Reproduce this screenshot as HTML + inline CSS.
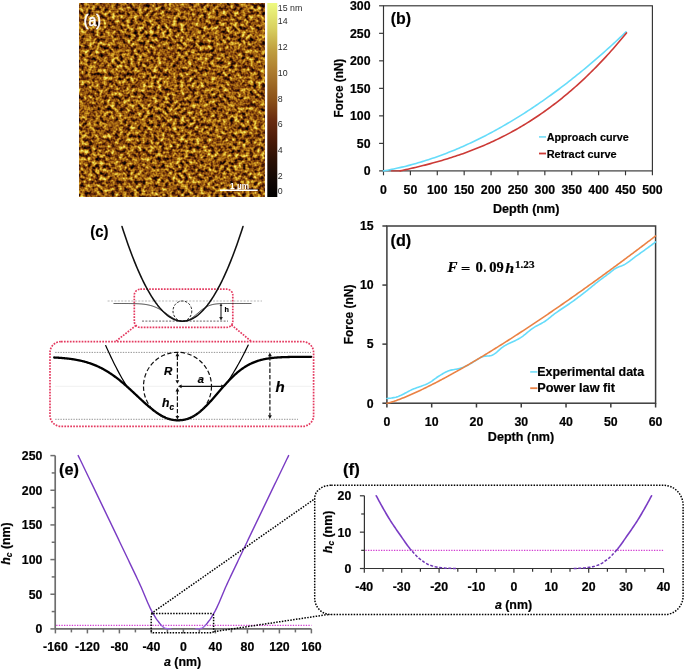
<!DOCTYPE html>
<html><head><meta charset="utf-8"><style>
html,body{margin:0;padding:0;background:#fff;}
svg{display:block;will-change:transform;} text[fill="#000"]{stroke:#000;stroke-width:0.2px;}
</style></head><body>
<svg width="685" height="670" viewBox="0 0 685 670">
<rect width="685" height="670" fill="#fff"/>
<defs>
<filter id="afm" x="0" y="0" width="100%" height="100%" color-interpolation-filters="sRGB">
 <feTurbulence type="fractalNoise" baseFrequency="0.26" numOctaves="2" seed="7" result="n"/>
 <feColorMatrix in="n" type="matrix" values="1 0 0 0 0  1 0 0 0 0  1 0 0 0 0  0 0 0 0 1" result="g0"/>
 <feGaussianBlur in="g0" stdDeviation="0.6" result="g"/>
 <feComponentTransfer in="g" result="s">
  <feFuncR type="linear" slope="1.6" intercept="-0.255"/>
  <feFuncG type="linear" slope="1.6" intercept="-0.255"/>
  <feFuncB type="linear" slope="1.6" intercept="-0.255"/>
 </feComponentTransfer>
 <feComponentTransfer in="s">
  <feFuncR type="table" tableValues="0.000 0.039 0.078 0.125 0.176 0.239 0.302 0.365 0.424 0.486 0.549 0.596 0.647 0.698 0.745 0.792 0.835 0.878 0.906 0.922 0.941"/>
  <feFuncG type="table" tableValues="0.000 0.016 0.035 0.051 0.067 0.090 0.118 0.153 0.188 0.247 0.306 0.357 0.404 0.455 0.514 0.576 0.647 0.718 0.780 0.843 0.902"/>
  <feFuncB type="table" tableValues="0.000 0.012 0.020 0.020 0.020 0.024 0.024 0.031 0.039 0.047 0.055 0.063 0.075 0.086 0.102 0.122 0.161 0.204 0.259 0.325 0.392"/>
  <feFuncA type="linear" slope="0" intercept="1"/>
 </feComponentTransfer>
</filter>
<linearGradient id="cbar" x1="0" y1="1" x2="0" y2="0">

<stop offset="0.000" stop-color="rgb(0, 0, 0)"/>
<stop offset="0.090" stop-color="rgb(18, 8, 5)"/>
<stop offset="0.190" stop-color="rgb(42, 16, 5)"/>
<stop offset="0.290" stop-color="rgb(74, 26, 8)"/>
<stop offset="0.400" stop-color="rgb(106, 44, 16)"/>
<stop offset="0.500" stop-color="rgb(138, 80, 24)"/>
<stop offset="0.660" stop-color="rgb(176, 128, 48)"/>
<stop offset="0.760" stop-color="rgb(192, 160, 64)"/>
<stop offset="0.870" stop-color="rgb(216, 208, 96)"/>
<stop offset="1.000" stop-color="rgb(238, 250, 128)"/>
</linearGradient></defs>
<rect x="79" y="3" width="186" height="194" filter="url(#afm)"/>
<text x="83.80" y="25.50" font-size="16" text-anchor="start" font-weight="normal" font-style="normal" font-family='"Liberation Sans", sans-serif' fill="#fff" textLength="17.10" lengthAdjust="spacingAndGlyphs" stroke="#fff" stroke-width="0.6">(a)</text>
<rect x="220" y="189.5" width="37.7" height="1.5" fill="#fff"/>
<text x="230.00" y="188.60" font-size="9" text-anchor="start" font-weight="bold" font-style="normal" font-family='"Liberation Sans", sans-serif' fill="#fff" textLength="19.00" lengthAdjust="spacingAndGlyphs" >1 µm</text>
<rect x="267.3" y="3" width="10" height="194" fill="url(#cbar)"/>
<text x="277.80" y="11.15" font-size="8.8" text-anchor="start" font-weight="normal" font-style="normal" font-family='"Liberation Sans", sans-serif' fill="#2a2a2a" >15 nm</text>
<text x="277.80" y="24.05" font-size="8.8" text-anchor="start" font-weight="normal" font-style="normal" font-family='"Liberation Sans", sans-serif' fill="#2a2a2a" >14</text>
<text x="277.80" y="50.05" font-size="8.8" text-anchor="start" font-weight="normal" font-style="normal" font-family='"Liberation Sans", sans-serif' fill="#2a2a2a" >12</text>
<text x="277.80" y="75.65" font-size="8.8" text-anchor="start" font-weight="normal" font-style="normal" font-family='"Liberation Sans", sans-serif' fill="#2a2a2a" >10</text>
<text x="277.80" y="101.65" font-size="8.8" text-anchor="start" font-weight="normal" font-style="normal" font-family='"Liberation Sans", sans-serif' fill="#2a2a2a" >8</text>
<text x="277.80" y="127.35" font-size="8.8" text-anchor="start" font-weight="normal" font-style="normal" font-family='"Liberation Sans", sans-serif' fill="#2a2a2a" >6</text>
<text x="277.80" y="153.05" font-size="8.8" text-anchor="start" font-weight="normal" font-style="normal" font-family='"Liberation Sans", sans-serif' fill="#2a2a2a" >4</text>
<text x="277.80" y="178.65" font-size="8.8" text-anchor="start" font-weight="normal" font-style="normal" font-family='"Liberation Sans", sans-serif' fill="#2a2a2a" >2</text>
<text x="277.80" y="194.15" font-size="8.8" text-anchor="start" font-weight="normal" font-style="normal" font-family='"Liberation Sans", sans-serif' fill="#2a2a2a" >0</text>
<rect x="383.5" y="5.8" width="268.9" height="165.1" fill="none" stroke="#333" stroke-width="1.15"/>
<line x1="383.50" y1="170.90" x2="383.50" y2="175.30" stroke="#333" stroke-width="1.15" />
<text x="383.50" y="193.60" font-size="12.3" text-anchor="middle" font-weight="bold" font-style="normal" font-family='"Liberation Sans", sans-serif' fill="#000" textLength="6.85" lengthAdjust="spacingAndGlyphs" >0</text>
<line x1="410.39" y1="170.90" x2="410.39" y2="175.30" stroke="#333" stroke-width="1.15" />
<text x="410.39" y="193.60" font-size="12.3" text-anchor="middle" font-weight="bold" font-style="normal" font-family='"Liberation Sans", sans-serif' fill="#000" textLength="13.70" lengthAdjust="spacingAndGlyphs" >50</text>
<line x1="437.28" y1="170.90" x2="437.28" y2="175.30" stroke="#333" stroke-width="1.15" />
<text x="437.28" y="193.60" font-size="12.3" text-anchor="middle" font-weight="bold" font-style="normal" font-family='"Liberation Sans", sans-serif' fill="#000" textLength="20.55" lengthAdjust="spacingAndGlyphs" >100</text>
<line x1="464.17" y1="170.90" x2="464.17" y2="175.30" stroke="#333" stroke-width="1.15" />
<text x="464.17" y="193.60" font-size="12.3" text-anchor="middle" font-weight="bold" font-style="normal" font-family='"Liberation Sans", sans-serif' fill="#000" textLength="20.55" lengthAdjust="spacingAndGlyphs" >150</text>
<line x1="491.06" y1="170.90" x2="491.06" y2="175.30" stroke="#333" stroke-width="1.15" />
<text x="491.06" y="193.60" font-size="12.3" text-anchor="middle" font-weight="bold" font-style="normal" font-family='"Liberation Sans", sans-serif' fill="#000" textLength="20.55" lengthAdjust="spacingAndGlyphs" >200</text>
<line x1="517.95" y1="170.90" x2="517.95" y2="175.30" stroke="#333" stroke-width="1.15" />
<text x="517.95" y="193.60" font-size="12.3" text-anchor="middle" font-weight="bold" font-style="normal" font-family='"Liberation Sans", sans-serif' fill="#000" textLength="20.55" lengthAdjust="spacingAndGlyphs" >250</text>
<line x1="544.84" y1="170.90" x2="544.84" y2="175.30" stroke="#333" stroke-width="1.15" />
<text x="544.84" y="193.60" font-size="12.3" text-anchor="middle" font-weight="bold" font-style="normal" font-family='"Liberation Sans", sans-serif' fill="#000" textLength="20.55" lengthAdjust="spacingAndGlyphs" >300</text>
<line x1="571.73" y1="170.90" x2="571.73" y2="175.30" stroke="#333" stroke-width="1.15" />
<text x="571.73" y="193.60" font-size="12.3" text-anchor="middle" font-weight="bold" font-style="normal" font-family='"Liberation Sans", sans-serif' fill="#000" textLength="20.55" lengthAdjust="spacingAndGlyphs" >350</text>
<line x1="598.62" y1="170.90" x2="598.62" y2="175.30" stroke="#333" stroke-width="1.15" />
<text x="598.62" y="193.60" font-size="12.3" text-anchor="middle" font-weight="bold" font-style="normal" font-family='"Liberation Sans", sans-serif' fill="#000" textLength="20.55" lengthAdjust="spacingAndGlyphs" >400</text>
<line x1="625.51" y1="170.90" x2="625.51" y2="175.30" stroke="#333" stroke-width="1.15" />
<text x="625.51" y="193.60" font-size="12.3" text-anchor="middle" font-weight="bold" font-style="normal" font-family='"Liberation Sans", sans-serif' fill="#000" textLength="20.55" lengthAdjust="spacingAndGlyphs" >450</text>
<line x1="652.40" y1="170.90" x2="652.40" y2="175.30" stroke="#333" stroke-width="1.15" />
<text x="652.40" y="193.60" font-size="12.3" text-anchor="middle" font-weight="bold" font-style="normal" font-family='"Liberation Sans", sans-serif' fill="#000" textLength="20.55" lengthAdjust="spacingAndGlyphs" >500</text>
<line x1="379.10" y1="170.90" x2="383.50" y2="170.90" stroke="#333" stroke-width="1.15" />
<text x="370.50" y="175.25" font-size="12.3" text-anchor="end" font-weight="bold" font-style="normal" font-family='"Liberation Sans", sans-serif' fill="#000" textLength="6.85" lengthAdjust="spacingAndGlyphs" >0</text>
<line x1="379.10" y1="143.38" x2="383.50" y2="143.38" stroke="#333" stroke-width="1.15" />
<text x="370.50" y="147.73" font-size="12.3" text-anchor="end" font-weight="bold" font-style="normal" font-family='"Liberation Sans", sans-serif' fill="#000" textLength="13.70" lengthAdjust="spacingAndGlyphs" >50</text>
<line x1="379.10" y1="115.87" x2="383.50" y2="115.87" stroke="#333" stroke-width="1.15" />
<text x="370.50" y="120.22" font-size="12.3" text-anchor="end" font-weight="bold" font-style="normal" font-family='"Liberation Sans", sans-serif' fill="#000" textLength="20.55" lengthAdjust="spacingAndGlyphs" >100</text>
<line x1="379.10" y1="88.35" x2="383.50" y2="88.35" stroke="#333" stroke-width="1.15" />
<text x="370.50" y="92.70" font-size="12.3" text-anchor="end" font-weight="bold" font-style="normal" font-family='"Liberation Sans", sans-serif' fill="#000" textLength="20.55" lengthAdjust="spacingAndGlyphs" >150</text>
<line x1="379.10" y1="60.83" x2="383.50" y2="60.83" stroke="#333" stroke-width="1.15" />
<text x="370.50" y="65.18" font-size="12.3" text-anchor="end" font-weight="bold" font-style="normal" font-family='"Liberation Sans", sans-serif' fill="#000" textLength="20.55" lengthAdjust="spacingAndGlyphs" >200</text>
<line x1="379.10" y1="33.32" x2="383.50" y2="33.32" stroke="#333" stroke-width="1.15" />
<text x="370.50" y="37.67" font-size="12.3" text-anchor="end" font-weight="bold" font-style="normal" font-family='"Liberation Sans", sans-serif' fill="#000" textLength="20.55" lengthAdjust="spacingAndGlyphs" >250</text>
<line x1="379.10" y1="5.80" x2="383.50" y2="5.80" stroke="#333" stroke-width="1.15" />
<text x="370.50" y="10.15" font-size="12.3" text-anchor="end" font-weight="bold" font-style="normal" font-family='"Liberation Sans", sans-serif' fill="#000" textLength="20.55" lengthAdjust="spacingAndGlyphs" >300</text>
<text x="493.00" y="212.60" font-size="12.4" text-anchor="start" font-weight="bold" font-style="normal" font-family='"Liberation Sans", sans-serif' fill="#000" textLength="66.40" lengthAdjust="spacingAndGlyphs" >Depth (nm)</text>
<text x="342.90" y="117.60" font-size="12.4" text-anchor="start" font-weight="bold" font-style="normal" font-family='"Liberation Sans", sans-serif' fill="#000" textLength="58.90" lengthAdjust="spacingAndGlyphs" transform="rotate(-90 342.90 117.60)" >Force (nN)</text>
<text x="390.80" y="23.60" font-size="16" text-anchor="start" font-weight="bold" font-style="normal" font-family='"Liberation Sans", sans-serif' fill="#000" textLength="20.30" lengthAdjust="spacingAndGlyphs" >(b)</text>
<polyline points="383.50,170.90 385.54,170.54 387.58,170.17 389.61,169.78 391.65,169.38 393.69,168.96 395.73,168.53 397.76,168.08 399.80,167.62 401.84,167.15 403.88,166.66 405.92,166.16 407.95,165.64 409.99,165.11 412.03,164.57 414.07,164.01 416.10,163.43 418.14,162.85 420.18,162.25 422.22,161.63 424.26,161.00 426.29,160.36 428.33,159.70 430.37,159.03 432.41,158.35 434.44,157.65 436.48,156.93 438.52,156.21 440.56,155.46 442.60,154.71 444.63,153.94 446.67,153.16 448.71,152.36 450.75,151.55 452.78,150.73 454.82,149.89 456.86,149.04 458.90,148.17 460.94,147.29 462.97,146.40 465.01,145.49 467.05,144.57 469.09,143.64 471.12,142.69 473.16,141.73 475.20,140.76 477.24,139.77 479.27,138.76 481.31,137.75 483.35,136.72 485.39,135.68 487.43,134.62 489.46,133.55 491.50,132.47 493.54,131.37 495.58,130.26 497.61,129.14 499.65,128.00 501.69,126.85 503.73,125.68 505.77,124.51 507.80,123.31 509.84,122.11 511.88,120.89 513.92,119.66 515.95,118.42 517.99,117.16 520.03,115.89 522.07,114.61 524.11,113.31 526.14,112.00 528.18,110.67 530.22,109.34 532.26,107.99 534.29,106.62 536.33,105.25 538.37,103.86 540.41,102.45 542.45,101.04 544.48,99.61 546.52,98.17 548.56,96.71 550.60,95.25 552.63,93.76 554.67,92.27 556.71,90.76 558.75,89.24 560.79,87.71 562.82,86.16 564.86,84.61 566.90,83.03 568.94,81.45 570.97,79.85 573.01,78.24 575.05,76.62 577.09,74.98 579.13,73.34 581.16,71.67 583.20,70.00 585.24,68.31 587.28,66.61 589.31,64.90 591.35,63.18 593.39,61.44 595.43,59.69 597.47,57.92 599.50,56.15 601.54,54.36 603.58,52.56 605.62,50.75 607.65,48.92 609.69,47.08 611.73,45.23 613.77,43.37 615.81,41.49 617.84,39.60 619.88,37.70 621.92,35.79 623.96,33.86 625.99,31.92" fill="none" stroke="#66dcfa" stroke-width="1.6" stroke-linejoin="round" stroke-linecap="round" />
<polyline points="400.17,170.90 402.07,170.49 403.98,170.07 405.88,169.64 407.78,169.21 409.68,168.78 411.58,168.34 413.48,167.90 415.39,167.45 417.29,166.99 419.19,166.53 421.09,166.06 422.99,165.58 424.89,165.10 426.80,164.61 428.70,164.11 430.60,163.61 432.50,163.09 434.40,162.57 436.30,162.04 438.21,161.50 440.11,160.96 442.01,160.40 443.91,159.84 445.81,159.26 447.72,158.68 449.62,158.08 451.52,157.48 453.42,156.86 455.32,156.24 457.22,155.60 459.13,154.95 461.03,154.30 462.93,153.63 464.83,152.95 466.73,152.25 468.63,151.55 470.54,150.83 472.44,150.10 474.34,149.36 476.24,148.60 478.14,147.84 480.04,147.05 481.95,146.26 483.85,145.45 485.75,144.63 487.65,143.79 489.55,142.94 491.45,142.08 493.36,141.20 495.26,140.31 497.16,139.40 499.06,138.47 500.96,137.53 502.87,136.58 504.77,135.61 506.67,134.62 508.57,133.62 510.47,132.60 512.37,131.56 514.28,130.51 516.18,129.44 518.08,128.36 519.98,127.25 521.88,126.13 523.78,124.99 525.69,123.84 527.59,122.66 529.49,121.47 531.39,120.26 533.29,119.03 535.19,117.79 537.10,116.52 539.00,115.24 540.90,113.93 542.80,112.61 544.70,111.27 546.61,109.90 548.51,108.52 550.41,107.12 552.31,105.70 554.21,104.25 556.11,102.79 558.02,101.31 559.92,99.81 561.82,98.28 563.72,96.73 565.62,95.17 567.52,93.58 569.43,91.97 571.33,90.34 573.23,88.68 575.13,87.01 577.03,85.31 578.93,83.59 580.84,81.85 582.74,80.08 584.64,78.30 586.54,76.49 588.44,74.65 590.35,72.80 592.25,70.92 594.15,69.02 596.05,67.09 597.95,65.14 599.85,63.16 601.76,61.17 603.66,59.14 605.56,57.10 607.46,55.03 609.36,52.93 611.26,50.81 613.17,48.67 615.07,46.50 616.97,44.30 618.87,42.09 620.77,39.84 622.67,37.57 624.58,35.27 626.48,32.95" fill="none" stroke="#cc3a36" stroke-width="1.6" stroke-linejoin="round" stroke-linecap="round" />
<line x1="391.03" y1="170.90" x2="400.17" y2="170.90" stroke="#cc3a36" stroke-width="1.2" />
<line x1="539.00" y1="136.90" x2="546.00" y2="136.90" stroke="#80e0f8" stroke-width="1.8" />
<text x="546.70" y="140.80" font-size="11.8" text-anchor="start" font-weight="bold" font-style="normal" font-family='"Liberation Sans", sans-serif' fill="#000" textLength="82.00" lengthAdjust="spacingAndGlyphs" >Approach curve</text>
<line x1="539.00" y1="153.50" x2="546.00" y2="153.50" stroke="#cc3a36" stroke-width="1.8" />
<text x="546.70" y="157.60" font-size="11.8" text-anchor="start" font-weight="bold" font-style="normal" font-family='"Liberation Sans", sans-serif' fill="#000" textLength="70.00" lengthAdjust="spacingAndGlyphs" >Retract curve</text>
<rect x="386.9" y="226.0" width="268.70000000000005" height="177.2" fill="none" stroke="#3c3c3c" stroke-width="1.5"/>
<line x1="386.90" y1="403.20" x2="386.90" y2="407.50" stroke="#3c3c3c" stroke-width="1.5" />
<text x="386.90" y="425.60" font-size="12.3" text-anchor="middle" font-weight="bold" font-style="normal" font-family='"Liberation Sans", sans-serif' fill="#000" textLength="6.85" lengthAdjust="spacingAndGlyphs" >0</text>
<line x1="431.68" y1="403.20" x2="431.68" y2="407.50" stroke="#3c3c3c" stroke-width="1.5" />
<text x="431.68" y="425.60" font-size="12.3" text-anchor="middle" font-weight="bold" font-style="normal" font-family='"Liberation Sans", sans-serif' fill="#000" textLength="13.70" lengthAdjust="spacingAndGlyphs" >10</text>
<line x1="476.47" y1="403.20" x2="476.47" y2="407.50" stroke="#3c3c3c" stroke-width="1.5" />
<text x="476.47" y="425.60" font-size="12.3" text-anchor="middle" font-weight="bold" font-style="normal" font-family='"Liberation Sans", sans-serif' fill="#000" textLength="13.70" lengthAdjust="spacingAndGlyphs" >20</text>
<line x1="521.25" y1="403.20" x2="521.25" y2="407.50" stroke="#3c3c3c" stroke-width="1.5" />
<text x="521.25" y="425.60" font-size="12.3" text-anchor="middle" font-weight="bold" font-style="normal" font-family='"Liberation Sans", sans-serif' fill="#000" textLength="13.70" lengthAdjust="spacingAndGlyphs" >30</text>
<line x1="566.03" y1="403.20" x2="566.03" y2="407.50" stroke="#3c3c3c" stroke-width="1.5" />
<text x="566.03" y="425.60" font-size="12.3" text-anchor="middle" font-weight="bold" font-style="normal" font-family='"Liberation Sans", sans-serif' fill="#000" textLength="13.70" lengthAdjust="spacingAndGlyphs" >40</text>
<line x1="610.82" y1="403.20" x2="610.82" y2="407.50" stroke="#3c3c3c" stroke-width="1.5" />
<text x="610.82" y="425.60" font-size="12.3" text-anchor="middle" font-weight="bold" font-style="normal" font-family='"Liberation Sans", sans-serif' fill="#000" textLength="13.70" lengthAdjust="spacingAndGlyphs" >50</text>
<line x1="655.60" y1="403.20" x2="655.60" y2="407.50" stroke="#3c3c3c" stroke-width="1.5" />
<text x="655.60" y="425.60" font-size="12.3" text-anchor="middle" font-weight="bold" font-style="normal" font-family='"Liberation Sans", sans-serif' fill="#000" textLength="13.70" lengthAdjust="spacingAndGlyphs" >60</text>
<line x1="382.40" y1="403.20" x2="386.90" y2="403.20" stroke="#3c3c3c" stroke-width="1.5" />
<text x="373.60" y="407.55" font-size="12.3" text-anchor="end" font-weight="bold" font-style="normal" font-family='"Liberation Sans", sans-serif' fill="#000" textLength="6.85" lengthAdjust="spacingAndGlyphs" >0</text>
<line x1="382.40" y1="344.13" x2="386.90" y2="344.13" stroke="#3c3c3c" stroke-width="1.5" />
<text x="373.60" y="348.48" font-size="12.3" text-anchor="end" font-weight="bold" font-style="normal" font-family='"Liberation Sans", sans-serif' fill="#000" textLength="6.85" lengthAdjust="spacingAndGlyphs" >5</text>
<line x1="382.40" y1="285.07" x2="386.90" y2="285.07" stroke="#3c3c3c" stroke-width="1.5" />
<text x="373.60" y="289.42" font-size="12.3" text-anchor="end" font-weight="bold" font-style="normal" font-family='"Liberation Sans", sans-serif' fill="#000" textLength="13.70" lengthAdjust="spacingAndGlyphs" >10</text>
<line x1="382.40" y1="226.00" x2="386.90" y2="226.00" stroke="#3c3c3c" stroke-width="1.5" />
<text x="373.60" y="230.35" font-size="12.3" text-anchor="end" font-weight="bold" font-style="normal" font-family='"Liberation Sans", sans-serif' fill="#000" textLength="13.70" lengthAdjust="spacingAndGlyphs" >15</text>
<text x="487.80" y="440.80" font-size="12.4" text-anchor="start" font-weight="bold" font-style="normal" font-family='"Liberation Sans", sans-serif' fill="#000" textLength="66.40" lengthAdjust="spacingAndGlyphs" >Depth (nm)</text>
<text x="353.50" y="344.20" font-size="12.4" text-anchor="start" font-weight="bold" font-style="normal" font-family='"Liberation Sans", sans-serif' fill="#000" textLength="59.60" lengthAdjust="spacingAndGlyphs" transform="rotate(-90 353.50 344.20)" >Force (nN)</text>
<text x="390.50" y="246.00" font-size="16" text-anchor="start" font-weight="bold" font-style="normal" font-family='"Liberation Sans", sans-serif' fill="#000" textLength="20.70" lengthAdjust="spacingAndGlyphs" >(d)</text>
<polyline points="386.90,398.47 388.02,398.42 389.15,398.32 390.27,398.19 391.40,398.04 392.52,397.86 393.65,397.66 394.77,397.45 395.89,397.21 397.02,396.89 398.14,396.52 399.27,396.08 400.39,395.60 401.52,395.07 402.64,394.51 403.76,393.93 404.89,393.33 406.01,392.72 407.14,392.11 408.26,391.50 409.39,390.91 410.51,390.35 411.63,389.81 412.76,389.31 413.88,388.85 415.01,388.41 416.13,387.99 417.26,387.58 418.38,387.18 419.50,386.78 420.63,386.39 421.75,385.98 422.88,385.57 424.00,385.13 425.13,384.68 426.25,384.20 427.37,383.69 428.50,383.14 429.62,382.53 430.75,381.83 431.87,381.07 432.99,380.26 434.12,379.43 435.24,378.60 436.37,377.78 437.49,377.01 438.62,376.29 439.74,375.61 440.86,374.92 441.99,374.23 443.11,373.55 444.24,372.89 445.36,372.27 446.49,371.69 447.61,371.18 448.73,370.75 449.86,370.40 450.98,370.13 452.11,369.90 453.23,369.69 454.36,369.51 455.48,369.32 456.60,369.13 457.73,368.90 458.85,368.63 459.98,368.32 461.10,367.98 462.23,367.61 463.35,367.21 464.47,366.78 465.60,366.32 466.72,365.80 467.85,365.21 468.97,364.58 470.10,363.91 471.22,363.21 472.34,362.51 473.47,361.81 474.59,361.13 475.72,360.48 476.84,359.84 477.97,359.14 479.09,358.43 480.21,357.76 481.34,357.17 482.46,356.73 483.59,356.46 484.71,356.29 485.84,356.17 486.96,356.06 488.08,355.96 489.21,355.84 490.33,355.68 491.46,355.43 492.58,354.99 493.71,354.38 494.83,353.63 495.95,352.78 497.08,351.85 498.20,350.87 499.33,349.87 500.45,348.88 501.58,347.93 502.70,347.05 503.82,346.28 504.95,345.61 506.07,344.99 507.20,344.40 508.32,343.84 509.45,343.31 510.57,342.78 511.69,342.27 512.82,341.75 513.94,341.23 515.07,340.70 516.19,340.15 517.32,339.57 518.44,338.96 519.56,338.31 520.69,337.62 521.81,336.85 522.94,336.03 524.06,335.16 525.18,334.27 526.31,333.35 527.43,332.42 528.56,331.50 529.68,330.59 530.81,329.71 531.93,328.87 533.05,328.08 534.18,327.35 535.30,326.67 536.43,326.04 537.55,325.43 538.68,324.85 539.80,324.26 540.92,323.67 542.05,323.06 543.17,322.41 544.30,321.72 545.42,320.98 546.55,320.17 547.67,319.32 548.79,318.43 549.92,317.53 551.04,316.62 552.17,315.71 553.29,314.82 554.42,313.97 555.54,313.15 556.66,312.35 557.79,311.56 558.91,310.78 560.04,310.01 561.16,309.26 562.29,308.50 563.41,307.75 564.53,307.00 565.66,306.25 566.78,305.50 567.91,304.74 569.03,303.98 570.16,303.20 571.28,302.42 572.40,301.62 573.53,300.81 574.65,299.99 575.78,299.16 576.90,298.32 578.03,297.48 579.15,296.63 580.27,295.78 581.40,294.92 582.52,294.06 583.65,293.19 584.77,292.31 585.90,291.43 587.02,290.55 588.14,289.65 589.27,288.74 590.39,287.81 591.52,286.88 592.64,285.95 593.77,285.02 594.89,284.10 596.01,283.19 597.14,282.30 598.26,281.43 599.39,280.57 600.51,279.72 601.64,278.89 602.76,278.05 603.88,277.22 605.01,276.39 606.13,275.56 607.26,274.73 608.38,273.89 609.51,273.01 610.63,272.10 611.75,271.19 612.88,270.30 614.00,269.45 615.13,268.69 616.25,268.02 617.37,267.47 618.50,266.98 619.62,266.55 620.75,266.13 621.87,265.70 623.00,265.23 624.12,264.70 625.24,264.08 626.37,263.39 627.49,262.65 628.62,261.85 629.74,261.03 630.87,260.17 631.99,259.30 633.11,258.43 634.24,257.57 635.36,256.72 636.49,255.90 637.61,255.10 638.74,254.30 639.86,253.50 640.98,252.70 642.11,251.90 643.23,251.09 644.36,250.28 645.48,249.47 646.61,248.65 647.73,247.82 648.85,246.99 649.98,246.16 651.10,245.33 652.23,244.49 653.35,243.64 654.48,242.80 655.60,241.95" fill="none" stroke="#66dcfa" stroke-width="1.6" stroke-linejoin="round" stroke-linecap="round" />
<polyline points="386.90,403.20 388.02,403.00 389.15,402.73 390.27,402.43 391.40,402.11 392.52,401.76 393.65,401.40 394.77,401.03 395.89,400.64 397.02,400.24 398.14,399.83 399.27,399.41 400.39,398.98 401.52,398.54 402.64,398.10 403.76,397.65 404.89,397.19 406.01,396.72 407.14,396.25 408.26,395.77 409.39,395.29 410.51,394.80 411.63,394.31 412.76,393.81 413.88,393.30 415.01,392.79 416.13,392.28 417.26,391.76 418.38,391.24 419.50,390.71 420.63,390.18 421.75,389.64 422.88,389.10 424.00,388.56 425.13,388.01 426.25,387.46 427.37,386.90 428.50,386.34 429.62,385.78 430.75,385.22 431.87,384.65 432.99,384.08 434.12,383.50 435.24,382.92 436.37,382.34 437.49,381.76 438.62,381.17 439.74,380.58 440.86,379.98 441.99,379.39 443.11,378.79 444.24,378.19 445.36,377.58 446.49,376.97 447.61,376.37 448.73,375.75 449.86,375.14 450.98,374.52 452.11,373.90 453.23,373.28 454.36,372.65 455.48,372.02 456.60,371.39 457.73,370.76 458.85,370.13 459.98,369.49 461.10,368.85 462.23,368.21 463.35,367.57 464.47,366.92 465.60,366.27 466.72,365.62 467.85,364.97 468.97,364.32 470.10,363.66 471.22,363.00 472.34,362.34 473.47,361.68 474.59,361.02 475.72,360.35 476.84,359.68 477.97,359.01 479.09,358.34 480.21,357.67 481.34,356.99 482.46,356.31 483.59,355.63 484.71,354.95 485.84,354.27 486.96,353.59 488.08,352.90 489.21,352.21 490.33,351.52 491.46,350.83 492.58,350.14 493.71,349.44 494.83,348.74 495.95,348.04 497.08,347.34 498.20,346.64 499.33,345.94 500.45,345.23 501.58,344.53 502.70,343.82 503.82,343.11 504.95,342.40 506.07,341.68 507.20,340.97 508.32,340.25 509.45,339.54 510.57,338.82 511.69,338.10 512.82,337.37 513.94,336.65 515.07,335.93 516.19,335.20 517.32,334.47 518.44,333.74 519.56,333.01 520.69,332.28 521.81,331.54 522.94,330.81 524.06,330.07 525.18,329.33 526.31,328.60 527.43,327.85 528.56,327.11 529.68,326.37 530.81,325.62 531.93,324.88 533.05,324.13 534.18,323.38 535.30,322.63 536.43,321.88 537.55,321.13 538.68,320.37 539.80,319.62 540.92,318.86 542.05,318.10 543.17,317.35 544.30,316.58 545.42,315.82 546.55,315.06 547.67,314.30 548.79,313.53 549.92,312.76 551.04,312.00 552.17,311.23 553.29,310.46 554.42,309.69 555.54,308.91 556.66,308.14 557.79,307.36 558.91,306.59 560.04,305.81 561.16,305.03 562.29,304.25 563.41,303.47 564.53,302.69 565.66,301.91 566.78,301.12 567.91,300.34 569.03,299.55 570.16,298.76 571.28,297.98 572.40,297.19 573.53,296.40 574.65,295.60 575.78,294.81 576.90,294.02 578.03,293.22 579.15,292.42 580.27,291.63 581.40,290.83 582.52,290.03 583.65,289.23 584.77,288.43 585.90,287.62 587.02,286.82 588.14,286.02 589.27,285.21 590.39,284.40 591.52,283.60 592.64,282.79 593.77,281.98 594.89,281.17 596.01,280.35 597.14,279.54 598.26,278.73 599.39,277.91 600.51,277.10 601.64,276.28 602.76,275.46 603.88,274.64 605.01,273.82 606.13,273.00 607.26,272.18 608.38,271.36 609.51,270.54 610.63,269.71 611.75,268.89 612.88,268.06 614.00,267.23 615.13,266.40 616.25,265.57 617.37,264.74 618.50,263.91 619.62,263.08 620.75,262.25 621.87,261.41 623.00,260.58 624.12,259.74 625.24,258.91 626.37,258.07 627.49,257.23 628.62,256.39 629.74,255.55 630.87,254.71 631.99,253.87 633.11,253.02 634.24,252.18 635.36,251.33 636.49,250.49 637.61,249.64 638.74,248.79 639.86,247.95 640.98,247.10 642.11,246.25 643.23,245.40 644.36,244.54 645.48,243.69 646.61,242.84 647.73,241.98 648.85,241.13 649.98,240.27 651.10,239.42 652.23,238.56 653.35,237.70 654.48,236.84 655.60,235.98" fill="none" stroke="#ea8244" stroke-width="1.6" stroke-linejoin="round" stroke-linecap="round" />
<line x1="530.20" y1="371.90" x2="537.40" y2="371.90" stroke="#80e0f8" stroke-width="1.8" />
<text x="537.30" y="375.90" font-size="12.1" text-anchor="start" font-weight="bold" font-style="normal" font-family='"Liberation Sans", sans-serif' fill="#000" textLength="106.80" lengthAdjust="spacingAndGlyphs" >Experimental data</text>
<line x1="530.20" y1="388.20" x2="537.40" y2="388.20" stroke="#ea8244" stroke-width="1.8" />
<text x="537.30" y="392.20" font-size="12.1" text-anchor="start" font-weight="bold" font-style="normal" font-family='"Liberation Sans", sans-serif' fill="#000" textLength="77.80" lengthAdjust="spacingAndGlyphs" >Power law fit</text>
<text x="447.60" y="272.40" font-size="14.3" text-anchor="start" font-weight="bold" font-style="italic" font-family='"Liberation Serif", serif' fill="#000" textLength="10.00" lengthAdjust="spacingAndGlyphs" >F</text>
<text x="460.90" y="272.50" font-size="13.4" text-anchor="start" font-weight="bold" font-style="normal" font-family='"Liberation Serif", serif' fill="#000" textLength="9.30" lengthAdjust="spacingAndGlyphs" >=</text>
<text x="475.40" y="272.30" font-size="13.8" text-anchor="start" font-weight="bold" font-style="normal" font-family='"Liberation Serif", serif' fill="#000" textLength="7.30" lengthAdjust="spacingAndGlyphs" >0</text>
<text x="483.40" y="272.30" font-size="13.8" text-anchor="start" font-weight="bold" font-style="normal" font-family='"Liberation Serif", serif' fill="#000" textLength="2.80" lengthAdjust="spacingAndGlyphs" >.</text>
<text x="489.30" y="272.30" font-size="13.8" text-anchor="start" font-weight="bold" font-style="normal" font-family='"Liberation Serif", serif' fill="#000" textLength="7.30" lengthAdjust="spacingAndGlyphs" >0</text>
<text x="496.60" y="272.30" font-size="13.8" text-anchor="start" font-weight="bold" font-style="normal" font-family='"Liberation Serif", serif' fill="#000" textLength="7.20" lengthAdjust="spacingAndGlyphs" >9</text>
<text x="505.30" y="272.50" font-size="13.8" text-anchor="start" font-weight="bold" font-style="italic" font-family='"Liberation Serif", serif' fill="#000" textLength="8.90" lengthAdjust="spacingAndGlyphs" >h</text>
<text x="514.90" y="267.60" font-size="10.4" text-anchor="start" font-weight="bold" font-style="normal" font-family='"Liberation Serif", serif' fill="#000" textLength="19.60" lengthAdjust="spacingAndGlyphs" >1.23</text>
<line x1="55.20" y1="628.90" x2="311.40" y2="628.90" stroke="#6e6e6e" stroke-width="1.7" />
<line x1="55.20" y1="455.60" x2="55.20" y2="628.90" stroke="#6e6e6e" stroke-width="1.7" />
<line x1="55.40" y1="628.90" x2="55.40" y2="633.40" stroke="#6e6e6e" stroke-width="1.5" />
<text x="55.40" y="651.40" font-size="12.3" text-anchor="middle" font-weight="bold" font-style="normal" font-family='"Liberation Sans", sans-serif' fill="#000" textLength="24.75" lengthAdjust="spacingAndGlyphs" >-160</text>
<line x1="71.40" y1="628.90" x2="71.40" y2="632.40" stroke="#6e6e6e" stroke-width="1.5" />
<line x1="87.40" y1="628.90" x2="87.40" y2="633.40" stroke="#6e6e6e" stroke-width="1.5" />
<text x="87.40" y="651.40" font-size="12.3" text-anchor="middle" font-weight="bold" font-style="normal" font-family='"Liberation Sans", sans-serif' fill="#000" textLength="24.75" lengthAdjust="spacingAndGlyphs" >-120</text>
<line x1="103.40" y1="628.90" x2="103.40" y2="632.40" stroke="#6e6e6e" stroke-width="1.5" />
<line x1="119.40" y1="628.90" x2="119.40" y2="633.40" stroke="#6e6e6e" stroke-width="1.5" />
<text x="119.40" y="651.40" font-size="12.3" text-anchor="middle" font-weight="bold" font-style="normal" font-family='"Liberation Sans", sans-serif' fill="#000" textLength="17.90" lengthAdjust="spacingAndGlyphs" >-80</text>
<line x1="135.40" y1="628.90" x2="135.40" y2="632.40" stroke="#6e6e6e" stroke-width="1.5" />
<line x1="151.40" y1="628.90" x2="151.40" y2="633.40" stroke="#6e6e6e" stroke-width="1.5" />
<text x="151.40" y="651.40" font-size="12.3" text-anchor="middle" font-weight="bold" font-style="normal" font-family='"Liberation Sans", sans-serif' fill="#000" textLength="17.90" lengthAdjust="spacingAndGlyphs" >-40</text>
<line x1="167.40" y1="628.90" x2="167.40" y2="632.40" stroke="#6e6e6e" stroke-width="1.5" />
<line x1="183.40" y1="628.90" x2="183.40" y2="633.40" stroke="#6e6e6e" stroke-width="1.5" />
<text x="183.40" y="651.40" font-size="12.3" text-anchor="middle" font-weight="bold" font-style="normal" font-family='"Liberation Sans", sans-serif' fill="#000" textLength="6.85" lengthAdjust="spacingAndGlyphs" >0</text>
<line x1="199.40" y1="628.90" x2="199.40" y2="632.40" stroke="#6e6e6e" stroke-width="1.5" />
<line x1="215.40" y1="628.90" x2="215.40" y2="633.40" stroke="#6e6e6e" stroke-width="1.5" />
<text x="215.40" y="651.40" font-size="12.3" text-anchor="middle" font-weight="bold" font-style="normal" font-family='"Liberation Sans", sans-serif' fill="#000" textLength="13.70" lengthAdjust="spacingAndGlyphs" >40</text>
<line x1="231.40" y1="628.90" x2="231.40" y2="632.40" stroke="#6e6e6e" stroke-width="1.5" />
<line x1="247.40" y1="628.90" x2="247.40" y2="633.40" stroke="#6e6e6e" stroke-width="1.5" />
<text x="247.40" y="651.40" font-size="12.3" text-anchor="middle" font-weight="bold" font-style="normal" font-family='"Liberation Sans", sans-serif' fill="#000" textLength="13.70" lengthAdjust="spacingAndGlyphs" >80</text>
<line x1="263.40" y1="628.90" x2="263.40" y2="632.40" stroke="#6e6e6e" stroke-width="1.5" />
<line x1="279.40" y1="628.90" x2="279.40" y2="633.40" stroke="#6e6e6e" stroke-width="1.5" />
<text x="279.40" y="651.40" font-size="12.3" text-anchor="middle" font-weight="bold" font-style="normal" font-family='"Liberation Sans", sans-serif' fill="#000" textLength="20.55" lengthAdjust="spacingAndGlyphs" >120</text>
<line x1="295.40" y1="628.90" x2="295.40" y2="632.40" stroke="#6e6e6e" stroke-width="1.5" />
<line x1="311.40" y1="628.90" x2="311.40" y2="633.40" stroke="#6e6e6e" stroke-width="1.5" />
<text x="311.40" y="651.40" font-size="12.3" text-anchor="middle" font-weight="bold" font-style="normal" font-family='"Liberation Sans", sans-serif' fill="#000" textLength="20.55" lengthAdjust="spacingAndGlyphs" >160</text>
<line x1="50.40" y1="628.90" x2="55.20" y2="628.90" stroke="#6e6e6e" stroke-width="1.5" />
<text x="42.40" y="633.25" font-size="12.3" text-anchor="end" font-weight="bold" font-style="normal" font-family='"Liberation Sans", sans-serif' fill="#000" textLength="6.85" lengthAdjust="spacingAndGlyphs" >0</text>
<line x1="51.70" y1="611.57" x2="55.20" y2="611.57" stroke="#6e6e6e" stroke-width="1.5" />
<line x1="50.40" y1="594.24" x2="55.20" y2="594.24" stroke="#6e6e6e" stroke-width="1.5" />
<text x="42.40" y="598.59" font-size="12.3" text-anchor="end" font-weight="bold" font-style="normal" font-family='"Liberation Sans", sans-serif' fill="#000" textLength="13.70" lengthAdjust="spacingAndGlyphs" >50</text>
<line x1="51.70" y1="576.91" x2="55.20" y2="576.91" stroke="#6e6e6e" stroke-width="1.5" />
<line x1="50.40" y1="559.58" x2="55.20" y2="559.58" stroke="#6e6e6e" stroke-width="1.5" />
<text x="42.40" y="563.93" font-size="12.3" text-anchor="end" font-weight="bold" font-style="normal" font-family='"Liberation Sans", sans-serif' fill="#000" textLength="20.55" lengthAdjust="spacingAndGlyphs" >100</text>
<line x1="51.70" y1="542.25" x2="55.20" y2="542.25" stroke="#6e6e6e" stroke-width="1.5" />
<line x1="50.40" y1="524.92" x2="55.20" y2="524.92" stroke="#6e6e6e" stroke-width="1.5" />
<text x="42.40" y="529.27" font-size="12.3" text-anchor="end" font-weight="bold" font-style="normal" font-family='"Liberation Sans", sans-serif' fill="#000" textLength="20.55" lengthAdjust="spacingAndGlyphs" >150</text>
<line x1="51.70" y1="507.59" x2="55.20" y2="507.59" stroke="#6e6e6e" stroke-width="1.5" />
<line x1="50.40" y1="490.26" x2="55.20" y2="490.26" stroke="#6e6e6e" stroke-width="1.5" />
<text x="42.40" y="494.61" font-size="12.3" text-anchor="end" font-weight="bold" font-style="normal" font-family='"Liberation Sans", sans-serif' fill="#000" textLength="20.55" lengthAdjust="spacingAndGlyphs" >200</text>
<line x1="51.70" y1="472.93" x2="55.20" y2="472.93" stroke="#6e6e6e" stroke-width="1.5" />
<line x1="50.40" y1="455.60" x2="55.20" y2="455.60" stroke="#6e6e6e" stroke-width="1.5" />
<text x="42.40" y="459.95" font-size="12.3" text-anchor="end" font-weight="bold" font-style="normal" font-family='"Liberation Sans", sans-serif' fill="#000" textLength="20.55" lengthAdjust="spacingAndGlyphs" >250</text>
<text x="59.10" y="475.00" font-size="16" text-anchor="start" font-weight="bold" font-style="normal" font-family='"Liberation Sans", sans-serif' fill="#000" textLength="19.90" lengthAdjust="spacingAndGlyphs" >(e)</text>
<text x="164.0" y="665.7" font-family='"Liberation Sans", sans-serif' font-size="12.4" font-weight="bold" fill="#000"><tspan font-style="italic">a</tspan> (nm)</text>
<text transform="translate(10.2 564.8) rotate(-90)" font-family='"Liberation Sans", sans-serif' font-size="12.4" font-weight="bold" fill="#000"><tspan font-style="italic">h</tspan><tspan font-style="italic" font-size="8.4" dy="2.1">c</tspan><tspan dy="-2.1"> (nm)</tspan></text>
<line x1="56.20" y1="625.43" x2="311.40" y2="625.43" stroke="#d23cd2" stroke-width="1.3" stroke-dasharray="1.3 1.3"/>
<polyline points="161.40,625.36 160.56,624.41 159.72,623.34 158.88,622.27 158.04,621.19 157.20,620.06 156.36,618.86 155.52,617.57 154.68,616.22 153.84,614.83 153.00,613.41 152.16,611.94 151.32,610.37 150.47,608.68 149.63,606.91 148.79,605.07 147.95,603.16 147.11,601.21 146.27,599.23 145.43,597.22 144.59,595.21 143.75,593.20 142.91,591.20 142.07,589.24 141.23,587.32 140.39,585.46 139.55,583.63 138.71,581.81 137.87,580.00 137.03,578.20 136.19,576.42 135.35,574.64 134.51,572.87 133.67,571.11 132.83,569.35 131.99,567.59 131.15,565.84 130.31,564.08 129.46,562.33 128.62,560.57 127.78,558.81 126.94,557.04 126.10,555.28 125.26,553.51 124.42,551.75 123.58,549.98 122.74,548.22 121.90,546.46 121.06,544.70 120.22,542.94 119.38,541.18 118.54,539.42 117.70,537.66 116.86,535.90 116.02,534.15 115.18,532.39 114.34,530.64 113.50,528.88 112.66,527.13 111.82,525.38 110.98,523.62 110.14,521.87 109.29,520.12 108.45,518.37 107.61,516.62 106.77,514.87 105.93,513.12 105.09,511.37 104.25,509.62 103.41,507.87 102.57,506.12 101.73,504.37 100.89,502.62 100.05,500.87 99.21,499.13 98.37,497.38 97.53,495.63 96.69,493.89 95.85,492.14 95.01,490.40 94.17,488.65 93.33,486.91 92.49,485.16 91.65,483.42 90.81,481.68 89.97,479.94 89.13,478.19 88.28,476.45 87.44,474.71 86.60,472.97 85.76,471.23 84.92,469.49 84.08,467.76 83.24,466.02 82.40,464.28 81.56,462.54 80.72,460.81 79.88,459.07 79.04,457.34 78.20,455.60" fill="none" stroke="#7a3cc4" stroke-width="1.4" stroke-linejoin="round" stroke-linecap="round" />
<polyline points="171.00,628.90 170.67,628.90 170.34,628.89 170.01,628.88 169.68,628.87 169.34,628.86 169.01,628.85 168.68,628.83 168.35,628.80 168.02,628.77 167.69,628.73 167.36,628.69 167.03,628.64 166.70,628.58 166.37,628.51 166.03,628.43 165.70,628.35 165.37,628.25 165.04,628.12 164.71,627.97 164.38,627.79 164.05,627.58 163.72,627.37 163.39,627.14 163.06,626.90 162.72,626.64 162.39,626.34 162.06,626.03 161.73,625.70 161.40,625.36" fill="none" stroke="#9a66dc" stroke-width="1.3" stroke-linejoin="round" stroke-linecap="round" />
<polyline points="205.40,625.36 206.24,624.41 207.08,623.34 207.92,622.27 208.76,621.19 209.60,620.06 210.44,618.86 211.28,617.57 212.12,616.22 212.96,614.83 213.80,613.41 214.64,611.94 215.48,610.37 216.33,608.68 217.17,606.91 218.01,605.07 218.85,603.16 219.69,601.21 220.53,599.23 221.37,597.22 222.21,595.21 223.05,593.20 223.89,591.20 224.73,589.24 225.57,587.32 226.41,585.46 227.25,583.63 228.09,581.81 228.93,580.00 229.77,578.20 230.61,576.42 231.45,574.64 232.29,572.87 233.13,571.11 233.97,569.35 234.81,567.59 235.65,565.84 236.49,564.08 237.34,562.33 238.18,560.57 239.02,558.81 239.86,557.04 240.70,555.28 241.54,553.51 242.38,551.75 243.22,549.98 244.06,548.22 244.90,546.46 245.74,544.70 246.58,542.94 247.42,541.18 248.26,539.42 249.10,537.66 249.94,535.90 250.78,534.15 251.62,532.39 252.46,530.64 253.30,528.88 254.14,527.13 254.98,525.38 255.82,523.62 256.66,521.87 257.51,520.12 258.35,518.37 259.19,516.62 260.03,514.87 260.87,513.12 261.71,511.37 262.55,509.62 263.39,507.87 264.23,506.12 265.07,504.37 265.91,502.62 266.75,500.87 267.59,499.13 268.43,497.38 269.27,495.63 270.11,493.89 270.95,492.14 271.79,490.40 272.63,488.65 273.47,486.91 274.31,485.16 275.15,483.42 275.99,481.68 276.83,479.94 277.67,478.19 278.52,476.45 279.36,474.71 280.20,472.97 281.04,471.23 281.88,469.49 282.72,467.76 283.56,466.02 284.40,464.28 285.24,462.54 286.08,460.81 286.92,459.07 287.76,457.34 288.60,455.60" fill="none" stroke="#7a3cc4" stroke-width="1.4" stroke-linejoin="round" stroke-linecap="round" />
<polyline points="195.80,628.90 196.13,628.90 196.46,628.89 196.79,628.88 197.12,628.87 197.46,628.86 197.79,628.85 198.12,628.83 198.45,628.80 198.78,628.77 199.11,628.73 199.44,628.69 199.77,628.64 200.10,628.58 200.43,628.51 200.77,628.43 201.10,628.35 201.43,628.25 201.76,628.12 202.09,627.97 202.42,627.79 202.75,627.58 203.08,627.37 203.41,627.14 203.74,626.90 204.08,626.64 204.41,626.34 204.74,626.03 205.07,625.70 205.40,625.36" fill="none" stroke="#9a66dc" stroke-width="1.3" stroke-linejoin="round" stroke-linecap="round" />
<rect x="151.2" y="613.5" width="62.4" height="19.3" rx="2" fill="none" stroke="#000" stroke-width="1.5" stroke-dasharray="1.5 1.35"/>
<line x1="151.20" y1="613.50" x2="315.60" y2="498.20" stroke="#000" stroke-width="1.5" stroke-dasharray="1.5 1.35"/>
<line x1="214.20" y1="631.60" x2="331.40" y2="614.00" stroke="#000" stroke-width="1.5" stroke-dasharray="1.5 1.35"/>
<path d="M331.2 485.2 H663.1 A20 20 0 0 1 683.1 505.2 V595.8 A18 18.7 0 0 1 665.1 614.5 H330.7 A16 16.3 0 0 1 314.7 598.2 V498.2 A16.5 13 0 0 1 331.2 485.2 Z" fill="#fff" stroke="#000" stroke-width="1.5" stroke-dasharray="1.5 1.35"/>
<line x1="364.40" y1="568.50" x2="663.50" y2="568.50" stroke="#333" stroke-width="1.2" />
<line x1="364.40" y1="495.80" x2="364.40" y2="568.50" stroke="#333" stroke-width="1.2" />
<line x1="364.30" y1="568.50" x2="364.30" y2="572.80" stroke="#333" stroke-width="1.2" />
<text x="364.30" y="591.00" font-size="12.3" text-anchor="middle" font-weight="bold" font-style="normal" font-family='"Liberation Sans", sans-serif' fill="#000" textLength="17.90" lengthAdjust="spacingAndGlyphs" >-40</text>
<line x1="383.00" y1="568.50" x2="383.00" y2="571.80" stroke="#333" stroke-width="1.2" />
<line x1="401.70" y1="568.50" x2="401.70" y2="572.80" stroke="#333" stroke-width="1.2" />
<text x="401.70" y="591.00" font-size="12.3" text-anchor="middle" font-weight="bold" font-style="normal" font-family='"Liberation Sans", sans-serif' fill="#000" textLength="17.90" lengthAdjust="spacingAndGlyphs" >-30</text>
<line x1="420.40" y1="568.50" x2="420.40" y2="571.80" stroke="#333" stroke-width="1.2" />
<line x1="439.10" y1="568.50" x2="439.10" y2="572.80" stroke="#333" stroke-width="1.2" />
<text x="439.10" y="591.00" font-size="12.3" text-anchor="middle" font-weight="bold" font-style="normal" font-family='"Liberation Sans", sans-serif' fill="#000" textLength="17.90" lengthAdjust="spacingAndGlyphs" >-20</text>
<line x1="457.80" y1="568.50" x2="457.80" y2="571.80" stroke="#333" stroke-width="1.2" />
<line x1="476.50" y1="568.50" x2="476.50" y2="572.80" stroke="#333" stroke-width="1.2" />
<text x="476.50" y="591.00" font-size="12.3" text-anchor="middle" font-weight="bold" font-style="normal" font-family='"Liberation Sans", sans-serif' fill="#000" textLength="17.90" lengthAdjust="spacingAndGlyphs" >-10</text>
<line x1="495.20" y1="568.50" x2="495.20" y2="571.80" stroke="#333" stroke-width="1.2" />
<line x1="513.90" y1="568.50" x2="513.90" y2="572.80" stroke="#333" stroke-width="1.2" />
<text x="513.90" y="591.00" font-size="12.3" text-anchor="middle" font-weight="bold" font-style="normal" font-family='"Liberation Sans", sans-serif' fill="#000" textLength="6.85" lengthAdjust="spacingAndGlyphs" >0</text>
<line x1="532.60" y1="568.50" x2="532.60" y2="571.80" stroke="#333" stroke-width="1.2" />
<line x1="551.30" y1="568.50" x2="551.30" y2="572.80" stroke="#333" stroke-width="1.2" />
<text x="551.30" y="591.00" font-size="12.3" text-anchor="middle" font-weight="bold" font-style="normal" font-family='"Liberation Sans", sans-serif' fill="#000" textLength="13.70" lengthAdjust="spacingAndGlyphs" >10</text>
<line x1="570.00" y1="568.50" x2="570.00" y2="571.80" stroke="#333" stroke-width="1.2" />
<line x1="588.70" y1="568.50" x2="588.70" y2="572.80" stroke="#333" stroke-width="1.2" />
<text x="588.70" y="591.00" font-size="12.3" text-anchor="middle" font-weight="bold" font-style="normal" font-family='"Liberation Sans", sans-serif' fill="#000" textLength="13.70" lengthAdjust="spacingAndGlyphs" >20</text>
<line x1="607.40" y1="568.50" x2="607.40" y2="571.80" stroke="#333" stroke-width="1.2" />
<line x1="626.10" y1="568.50" x2="626.10" y2="572.80" stroke="#333" stroke-width="1.2" />
<text x="626.10" y="591.00" font-size="12.3" text-anchor="middle" font-weight="bold" font-style="normal" font-family='"Liberation Sans", sans-serif' fill="#000" textLength="13.70" lengthAdjust="spacingAndGlyphs" >30</text>
<line x1="644.80" y1="568.50" x2="644.80" y2="571.80" stroke="#333" stroke-width="1.2" />
<line x1="663.50" y1="568.50" x2="663.50" y2="572.80" stroke="#333" stroke-width="1.2" />
<text x="663.50" y="591.00" font-size="12.3" text-anchor="middle" font-weight="bold" font-style="normal" font-family='"Liberation Sans", sans-serif' fill="#000" textLength="13.70" lengthAdjust="spacingAndGlyphs" >40</text>
<line x1="359.90" y1="568.50" x2="364.40" y2="568.50" stroke="#333" stroke-width="1.2" />
<text x="351.30" y="572.85" font-size="12.3" text-anchor="end" font-weight="bold" font-style="normal" font-family='"Liberation Sans", sans-serif' fill="#000" textLength="6.85" lengthAdjust="spacingAndGlyphs" >0</text>
<line x1="361.20" y1="550.33" x2="364.40" y2="550.33" stroke="#333" stroke-width="1.2" />
<line x1="359.90" y1="532.15" x2="364.40" y2="532.15" stroke="#333" stroke-width="1.2" />
<text x="351.30" y="536.50" font-size="12.3" text-anchor="end" font-weight="bold" font-style="normal" font-family='"Liberation Sans", sans-serif' fill="#000" textLength="13.70" lengthAdjust="spacingAndGlyphs" >10</text>
<line x1="361.20" y1="513.98" x2="364.40" y2="513.98" stroke="#333" stroke-width="1.2" />
<line x1="359.90" y1="495.80" x2="364.40" y2="495.80" stroke="#333" stroke-width="1.2" />
<text x="351.30" y="500.15" font-size="12.3" text-anchor="end" font-weight="bold" font-style="normal" font-family='"Liberation Sans", sans-serif' fill="#000" textLength="13.70" lengthAdjust="spacingAndGlyphs" >20</text>
<text x="343.00" y="475.20" font-size="16" text-anchor="start" font-weight="bold" font-style="normal" font-family='"Liberation Sans", sans-serif' fill="#000" textLength="16.70" lengthAdjust="spacingAndGlyphs" >(f)</text>
<text x="494.9" y="608.9" font-family='"Liberation Sans", sans-serif' font-size="12.4" font-weight="bold" fill="#000"><tspan font-style="italic">a</tspan> (nm)</text>
<text transform="translate(332.3 553.2) rotate(-90)" font-family='"Liberation Sans", sans-serif' font-size="12.4" font-weight="bold" fill="#000"><tspan font-style="italic">h</tspan><tspan font-style="italic" font-size="8.4" dy="2.1">c</tspan><tspan dy="-2.1"> (nm)</tspan></text>
<line x1="365.40" y1="550.33" x2="663.50" y2="550.33" stroke="#d23cd2" stroke-width="1.3" stroke-dasharray="1.3 1.3"/>
<polyline points="411.05,549.96 410.16,548.90 409.27,547.79 408.37,546.63 407.48,545.44 406.59,544.21 405.70,542.96 404.81,541.69 403.92,540.41 403.02,539.13 402.13,537.84 401.24,536.56 400.35,535.29 399.46,534.02 398.56,532.74 397.67,531.46 396.78,530.18 395.89,528.88 395.00,527.57 394.10,526.25 393.21,524.92 392.32,523.57 391.43,522.20 390.54,520.81 389.65,519.40 388.75,517.96 387.86,516.50 386.97,515.02 386.08,513.51 385.19,511.97 384.29,510.42 383.40,508.85 382.51,507.26 381.62,505.66 380.73,504.04 379.84,502.41 378.94,500.77 378.05,499.12 377.16,497.46 376.27,495.80" fill="none" stroke="#7a3cc4" stroke-width="1.6" stroke-linejoin="round" stroke-linecap="round" />
<polyline points="455.93,568.50 454.78,568.49 453.63,568.48 452.48,568.45 451.33,568.41 450.18,568.37 449.03,568.32 447.87,568.27 446.72,568.22 445.57,568.15 444.42,568.06 443.27,567.95 442.12,567.82 440.97,567.67 439.82,567.51 438.67,567.34 437.52,567.15 436.37,566.93 435.22,566.69 434.07,566.41 432.91,566.11 431.76,565.78 430.61,565.41 429.46,565.02 428.31,564.53 427.16,563.96 426.01,563.31 424.86,562.58 423.71,561.80 422.56,560.97 421.41,560.11 420.26,559.23 419.11,558.31 417.95,557.30 416.80,556.21 415.65,555.06 414.50,553.84 413.35,552.58 412.20,551.29 411.05,549.96" fill="none" stroke="#6c34b4" stroke-width="1.5" stroke-linejoin="round" stroke-linecap="butt" stroke-dasharray="3 1.6"/>
<polyline points="616.75,549.96 617.64,548.90 618.53,547.79 619.43,546.63 620.32,545.44 621.21,544.21 622.10,542.96 622.99,541.69 623.88,540.41 624.78,539.13 625.67,537.84 626.56,536.56 627.45,535.29 628.34,534.02 629.24,532.74 630.13,531.46 631.02,530.18 631.91,528.88 632.80,527.57 633.70,526.25 634.59,524.92 635.48,523.57 636.37,522.20 637.26,520.81 638.15,519.40 639.05,517.96 639.94,516.50 640.83,515.02 641.72,513.51 642.61,511.97 643.51,510.42 644.40,508.85 645.29,507.26 646.18,505.66 647.07,504.04 647.96,502.41 648.86,500.77 649.75,499.12 650.64,497.46 651.53,495.80" fill="none" stroke="#7a3cc4" stroke-width="1.6" stroke-linejoin="round" stroke-linecap="round" />
<polyline points="616.75,549.96 615.60,551.29 614.45,552.58 613.30,553.84 612.15,555.06 611.00,556.21 609.85,557.30 608.69,558.31 607.54,559.23 606.39,560.11 605.24,560.97 604.09,561.80 602.94,562.58 601.79,563.31 600.64,563.96 599.49,564.53 598.34,565.02 597.19,565.41 596.04,565.78 594.89,566.11 593.73,566.41 592.58,566.69 591.43,566.93 590.28,567.15 589.13,567.34 587.98,567.51 586.83,567.67 585.68,567.82 584.53,567.95 583.38,568.06 582.23,568.15 581.08,568.22 579.93,568.27 578.77,568.32 577.62,568.37 576.47,568.41 575.32,568.45 574.17,568.48 573.02,568.49 571.87,568.50" fill="none" stroke="#6c34b4" stroke-width="1.5" stroke-linejoin="round" stroke-linecap="butt" stroke-dasharray="3 1.6"/>
<text x="90.30" y="236.90" font-size="16" text-anchor="start" font-weight="bold" font-style="normal" font-family='"Liberation Sans", sans-serif' fill="#000" textLength="18.20" lengthAdjust="spacingAndGlyphs" >(c)</text>
<rect x="134.3" y="289.2" width="98.5" height="38.2" rx="6" fill="none" stroke="#e43a60" stroke-width="1.7" stroke-dasharray="1.7 1.25"/>
<line x1="107.60" y1="301.00" x2="262.00" y2="301.00" stroke="#b0b0b0" stroke-width="0.9" stroke-dasharray="2 1.4"/>
<line x1="142.00" y1="321.10" x2="228.00" y2="321.10" stroke="#555" stroke-width="0.9" stroke-dasharray="2 1.4"/>
<polyline points="114.00,303.50 114.69,303.50 115.38,303.50 116.07,303.50 116.75,303.50 117.44,303.50 118.13,303.50 118.82,303.50 119.51,303.50 120.20,303.50 120.88,303.51 121.57,303.51 122.26,303.51 122.95,303.51 123.64,303.51 124.33,303.51 125.02,303.51 125.70,303.52 126.39,303.52 127.08,303.52 127.77,303.53 128.46,303.53 129.15,303.54 129.83,303.55 130.52,303.55 131.21,303.56 131.90,303.57 132.59,303.58 133.28,303.60 133.96,303.61 134.65,303.63 135.34,303.65 136.03,303.67 136.72,303.70 137.41,303.73 138.10,303.76 138.78,303.79 139.47,303.83 140.16,303.88 140.85,303.93 141.54,303.98 142.23,304.05 142.91,304.12 143.60,304.19 144.29,304.27 144.98,304.37 145.67,304.47 146.36,304.58 147.05,304.70 147.73,304.83 148.42,304.97 149.11,305.12 149.80,305.29 150.49,305.47 151.18,305.66 151.86,305.87 152.55,306.09 153.24,306.33 153.93,306.58 154.62,306.85 155.31,307.13 155.99,307.43 156.68,307.74 157.37,308.07 158.06,308.42 158.75,308.78 159.44,309.16 160.13,309.55 160.81,309.96 161.50,310.38 162.19,310.81 162.88,311.25 163.57,311.71 164.26,312.17 164.94,312.64 165.63,313.11 166.32,313.59 167.01,314.07 167.70,314.56 168.39,315.04 169.08,315.51 169.76,315.98 170.45,316.45 171.14,316.90 171.83,317.34 172.52,317.77 173.21,318.17 173.89,318.56 174.58,318.93 175.27,319.28 175.96,319.60 176.65,319.89 177.34,320.16 178.03,320.39 178.71,320.59 179.40,320.76 180.09,320.90 180.78,321.00 181.47,321.07 182.16,321.10 182.84,321.10 183.53,321.07 184.22,321.02 184.91,320.94 185.60,320.82 186.29,320.66 186.97,320.47 187.66,320.23 188.35,319.96 189.04,319.64 189.73,319.29 190.42,318.90 191.11,318.48 191.79,318.03 192.48,317.54 193.17,317.03 193.86,316.50 194.55,315.94 195.24,315.38 195.92,314.79 196.61,314.20 197.30,313.61 197.99,313.01 198.68,312.42 199.37,311.84 200.06,311.26 200.74,310.70 201.43,310.15 202.12,309.62 202.81,309.11 203.50,308.63 204.19,308.16 204.87,307.73 205.56,307.31 206.25,306.93 206.94,306.57 207.63,306.24 208.32,305.93 209.01,305.65 209.69,305.39 210.38,305.16 211.07,304.95 211.76,304.76 212.45,304.59 213.14,304.44 213.82,304.31 214.51,304.19 215.20,304.08 215.89,304.00 216.58,303.92 217.27,303.85 217.95,303.79 218.64,303.74 219.33,303.70 220.02,303.67 220.71,303.64 221.40,303.61 222.09,303.59 222.77,303.57 223.46,303.56 224.15,303.55 224.84,303.54 225.53,303.53 226.22,303.52 226.90,303.52 227.59,303.51 228.28,303.51 228.97,303.51 229.66,303.51 230.35,303.51 231.04,303.50 231.72,303.50 232.41,303.50 233.10,303.50 233.79,303.50 234.48,303.50 235.17,303.50 235.85,303.50 236.54,303.50 237.23,303.50 237.92,303.50 238.61,303.50 239.30,303.50 239.98,303.50 240.67,303.50 241.36,303.50 242.05,303.50 242.74,303.50 243.43,303.50 244.12,303.50 244.80,303.50 245.49,303.50 246.18,303.50 246.87,303.50 247.56,303.50 248.25,303.50 248.93,303.50 249.62,303.50 250.31,303.50 251.00,303.50" fill="none" stroke="#333" stroke-width="0.95" stroke-linejoin="round" stroke-linecap="round" />
<polyline points="122.00,226.51 123.02,229.67 124.03,232.77 125.05,235.82 126.07,238.81 127.08,241.76 128.10,244.64 129.12,247.48 130.13,250.26 131.15,252.99 132.17,255.66 133.18,258.28 134.20,260.85 135.22,263.37 136.24,265.83 137.25,268.23 138.27,270.59 139.29,272.89 140.30,275.14 141.32,277.33 142.34,279.47 143.35,281.55 144.37,283.59 145.39,285.57 146.40,287.49 147.42,289.36 148.44,291.18 149.45,292.95 150.47,294.66 151.49,296.32 152.50,297.92 153.52,299.47 154.54,300.97 155.55,302.42 156.57,303.81 157.59,305.15 158.61,306.43 159.62,307.66 160.64,308.84 161.66,309.96 162.67,311.03 163.69,312.05 164.71,313.01 165.72,313.92 166.74,314.77 167.76,315.58 168.77,316.33 169.79,317.02 170.81,317.66 171.82,318.25 172.84,318.79 173.86,319.27 174.87,319.70 175.89,320.07 176.91,320.39 177.92,320.66 178.94,320.87 179.96,321.03 180.97,321.14 181.99,321.19 183.01,321.19 184.03,321.14 185.04,321.03 186.06,320.87 187.08,320.66 188.09,320.39 189.11,320.07 190.13,319.70 191.14,319.27 192.16,318.79 193.18,318.25 194.19,317.66 195.21,317.02 196.23,316.33 197.24,315.58 198.26,314.77 199.28,313.92 200.29,313.01 201.31,312.05 202.33,311.03 203.34,309.96 204.36,308.84 205.38,307.66 206.39,306.43 207.41,305.15 208.43,303.81 209.45,302.42 210.46,300.97 211.48,299.47 212.50,297.92 213.51,296.32 214.53,294.66 215.55,292.95 216.56,291.18 217.58,289.36 218.60,287.49 219.61,285.57 220.63,283.59 221.65,281.55 222.66,279.47 223.68,277.33 224.70,275.14 225.71,272.89 226.73,270.59 227.75,268.23 228.76,265.83 229.78,263.37 230.80,260.85 231.82,258.28 232.83,255.66 233.85,252.99 234.87,250.26 235.88,247.48 236.90,244.64 237.92,241.76 238.93,238.81 239.95,235.82 240.97,232.77 241.98,229.67 243.00,226.51" fill="none" stroke="#111" stroke-width="1.55" stroke-linejoin="round" stroke-linecap="round" />
<ellipse cx="182.4" cy="311" rx="9.4" ry="10" fill="none" stroke="#222" stroke-width="1.0" stroke-dasharray="2.4 1.6"/>
<line x1="221.00" y1="305.00" x2="221.00" y2="318.00" stroke="#222" stroke-width="1.1" />
<path d="M219.2 317 L221 320.8 L222.8 317 Z" fill="#222"/>
<path d="M219.6 306 L221 303 L222.4 306 Z" fill="#222"/>
<text x="224.60" y="311.70" font-size="7.2" text-anchor="start" font-weight="bold" font-style="normal" font-family='"Liberation Sans", sans-serif' fill="#000" >h</text>
<line x1="116.10" y1="341.10" x2="136.70" y2="324.90" stroke="#e43a60" stroke-width="1.7" stroke-dasharray="1.7 1.25"/>
<line x1="231.50" y1="324.90" x2="250.90" y2="341.10" stroke="#e43a60" stroke-width="1.7" stroke-dasharray="1.7 1.25"/>
<rect x="50.0" y="341.6" width="263.6" height="84.8" rx="11" fill="#fff" stroke="#e43a60" stroke-width="1.7" stroke-dasharray="1.7 1.25"/>
<line x1="55.20" y1="352.40" x2="311.00" y2="352.40" stroke="#7a7a7a" stroke-width="0.8" stroke-dasharray="1.4 1.2"/>
<line x1="55.20" y1="419.30" x2="298.00" y2="419.30" stroke="#7a7a7a" stroke-width="0.8" stroke-dasharray="1.4 1.2"/>
<line x1="55.20" y1="386.30" x2="311.00" y2="386.30" stroke="#ececec" stroke-width="0.8" />
<polyline points="54.20,357.49 54.84,357.53 55.49,357.56 56.13,357.60 56.78,357.63 57.42,357.67 58.06,357.71 58.71,357.76 59.35,357.80 60.00,357.85 60.64,357.90 61.29,357.95 61.93,358.00 62.57,358.05 63.22,358.11 63.86,358.17 64.51,358.23 65.15,358.29 65.79,358.36 66.44,358.42 67.08,358.49 67.73,358.57 68.37,358.64 69.01,358.72 69.66,358.80 70.30,358.89 70.95,358.97 71.59,359.06 72.24,359.16 72.88,359.25 73.52,359.35 74.17,359.46 74.81,359.56 75.46,359.67 76.10,359.79 76.74,359.91 77.39,360.03 78.03,360.15 78.68,360.28 79.32,360.42 79.96,360.56 80.61,360.70 81.25,360.84 81.90,361.00 82.54,361.15 83.18,361.31 83.83,361.48 84.47,361.65 85.12,361.82 85.76,362.00 86.41,362.19 87.05,362.38 87.69,362.58 88.34,362.78 88.98,362.98 89.63,363.20 90.27,363.41 90.91,363.64 91.56,363.87 92.20,364.10 92.85,364.34 93.49,364.59 94.13,364.85 94.78,365.11 95.42,365.37 96.07,365.64 96.71,365.92 97.36,366.21 98.00,366.50 98.64,366.80 99.29,367.10 99.93,367.42 100.58,367.74 101.22,368.06 101.86,368.39 102.51,368.73 103.15,369.08 103.80,369.43 104.44,369.79 105.08,370.16 105.73,370.53 106.37,370.91 107.02,371.30 107.66,371.70 108.31,372.10 108.95,372.51 109.59,372.92 110.24,373.35 110.88,373.78 111.53,374.21 112.17,374.66 112.81,375.11 113.46,375.56 114.10,376.03 114.75,376.50 115.39,376.97 116.03,377.46 116.68,377.94 117.32,378.44 117.97,378.94 118.61,379.45 119.26,379.96 119.90,380.48 120.54,381.01 121.19,381.54 121.83,382.08 122.48,382.62 123.12,383.16 123.76,383.71 124.41,384.27 125.05,384.83 125.70,385.40 126.34,385.97 126.98,386.54 127.63,387.12 128.27,387.70 128.92,388.28 129.56,388.87 130.21,389.46 130.85,390.05 131.49,390.65 132.14,391.24 132.78,391.84 133.43,392.44 134.07,393.05 134.71,393.65 135.36,394.25 136.00,394.86 136.65,395.46 137.29,396.07 137.93,396.67 138.58,397.28 139.22,397.88 139.87,398.48 140.51,399.08 141.15,399.68 141.80,400.27 142.44,400.87 143.09,401.46 143.73,402.04 144.38,402.63 145.02,403.21 145.66,403.78 146.31,404.35 146.95,404.92 147.60,405.48 148.24,406.03 148.88,406.58 149.53,407.12 150.17,407.66 150.82,408.19 151.46,408.71 152.10,409.22 152.75,409.73 153.39,410.23 154.04,410.71 154.68,411.19 155.33,411.66 155.97,412.13 156.61,412.58 157.26,413.02 157.90,413.45 158.55,413.87 159.19,414.28 159.83,414.67 160.48,415.06 161.12,415.43 161.77,415.80 162.41,416.14 163.05,416.48 163.70,416.80 164.34,417.11 164.99,417.41 165.63,417.70 166.28,417.97 166.92,418.22 167.56,418.46 168.21,418.69 168.85,418.90 169.50,419.10 170.14,419.29 170.78,419.45 171.43,419.61 172.07,419.75 172.72,419.87 173.36,419.98 174.00,420.07 174.65,420.15 175.29,420.21 175.94,420.25 176.58,420.28 177.23,420.30 177.87,420.30 178.51,420.29 179.16,420.28 179.80,420.25 180.45,420.21 181.09,420.16 181.73,420.10 182.38,420.02 183.02,419.93 183.67,419.83 184.31,419.71 184.95,419.57 185.60,419.42 186.24,419.25 186.89,419.06 187.53,418.86 188.17,418.64 188.82,418.41 189.46,418.16 190.11,417.89 190.75,417.60 191.40,417.29 192.04,416.97 192.68,416.63 193.33,416.28 193.97,415.91 194.62,415.52 195.26,415.11 195.90,414.69 196.55,414.25 197.19,413.79 197.84,413.32 198.48,412.83 199.12,412.33 199.77,411.81 200.41,411.28 201.06,410.73 201.70,410.17 202.35,409.60 202.99,409.01 203.63,408.41 204.28,407.80 204.92,407.17 205.57,406.54 206.21,405.89 206.85,405.23 207.50,404.57 208.14,403.89 208.79,403.21 209.43,402.51 210.07,401.81 210.72,401.11 211.36,400.39 212.01,399.67 212.65,398.95 213.30,398.21 213.94,397.48 214.58,396.74 215.23,396.00 215.87,395.26 216.52,394.51 217.16,393.77 217.80,393.02 218.45,392.27 219.09,391.52 219.74,390.78 220.38,390.03 221.02,389.29 221.67,388.55 222.31,387.81 222.96,387.08 223.60,386.35 224.25,385.63 224.89,384.91 225.53,384.20 226.18,383.49 226.82,382.79 227.47,382.10 228.11,381.41 228.75,380.73 229.40,380.06 230.04,379.40 230.69,378.74 231.33,378.10 231.97,377.46 232.62,376.84 233.26,376.22 233.91,375.61 234.55,375.02 235.19,374.43 235.84,373.86 236.48,373.29 237.13,372.74 237.77,372.20 238.42,371.67 239.06,371.15 239.70,370.64 240.35,370.14 240.99,369.66 241.64,369.19 242.28,368.72 242.92,368.27 243.57,367.84 244.21,367.41 244.86,366.99 245.50,366.59 246.14,366.19 246.79,365.81 247.43,365.44 248.08,365.08 248.72,364.73 249.37,364.40 250.01,364.07 250.65,363.75 251.30,363.45 251.94,363.15 252.59,362.86 253.23,362.59 253.87,362.32 254.52,362.06 255.16,361.82 255.81,361.58 256.45,361.35 257.09,361.13 257.74,360.92 258.38,360.71 259.03,360.52 259.67,360.33 260.32,360.15 260.96,359.98 261.60,359.81 262.25,359.65 262.89,359.50 263.54,359.36 264.18,359.22 264.82,359.09 265.47,358.96 266.11,358.84 266.76,358.73 267.40,358.62 268.04,358.51 268.69,358.41 269.33,358.32 269.98,358.23 270.62,358.15 271.27,358.07 271.91,357.99 272.55,357.92 273.20,357.85 273.84,357.78 274.49,357.72 275.13,357.66 275.77,357.61 276.42,357.56 277.06,357.51 277.71,357.46 278.35,357.42 278.99,357.38 279.64,357.34 280.28,357.30 280.93,357.27 281.57,357.24 282.22,357.21 282.86,357.18 283.50,357.15 284.15,357.13 284.79,357.11 285.44,357.08 286.08,357.06 286.72,357.04 287.37,357.03 288.01,357.01 288.66,356.99 289.30,356.98 289.94,356.97 290.59,356.95 291.23,356.94 291.88,356.93 292.52,356.92 293.16,356.91 293.81,356.90 294.45,356.89 295.10,356.89 295.74,356.88 296.39,356.87 297.03,356.87 297.67,356.86 298.32,356.86 298.96,356.85 299.61,356.85 300.25,356.84 300.89,356.84 301.54,356.84 302.18,356.83 302.83,356.83 303.47,356.83 304.11,356.83 304.76,356.82 305.40,356.82 306.05,356.82 306.69,356.82 307.34,356.82 307.98,356.81 308.62,356.81 309.27,356.81 309.91,356.81 310.56,356.81 311.20,356.81" fill="none" stroke="#000" stroke-width="2.3" stroke-linejoin="round" stroke-linecap="round" />
<polyline points="105.70,345.50 106.76,347.89 107.83,350.25 108.89,352.58 109.95,354.86 111.02,357.12 112.08,359.33 113.14,361.52 114.21,363.66 115.27,365.77 116.33,367.85 117.39,369.88 118.46,371.89 119.52,373.85 120.58,375.78 121.65,377.68 122.71,379.54 123.77,381.36 124.84,383.15 125.90,384.90" fill="none" stroke="#000" stroke-width="1.2" stroke-linejoin="round" stroke-linecap="round" />
<polyline points="226.10,383.93 227.26,382.25 228.43,380.52 229.59,378.76 230.75,376.96 231.92,375.11 233.08,373.23 234.24,371.31 235.41,369.34 236.57,367.34 237.73,365.30 238.89,363.22 240.06,361.09 241.22,358.93 242.38,356.73 243.55,354.49 244.71,352.21 245.87,349.88 247.04,347.52 248.20,345.12" fill="none" stroke="#000" stroke-width="1.2" stroke-linejoin="round" stroke-linecap="round" />
<circle cx="177.5" cy="386.3" r="34" fill="none" stroke="#111" stroke-width="1.2" stroke-dasharray="4.4 2.4"/>
<line x1="177.40" y1="355.50" x2="177.40" y2="382.50" stroke="#111" stroke-width="1.2" stroke-dasharray="4.4 1.9"/>
<line x1="177.40" y1="390.00" x2="177.40" y2="416.50" stroke="#111" stroke-width="1.2" stroke-dasharray="4.4 1.9"/>
<path d="M177.40 352.60 L179.30 356.20 L175.50 356.20 Z" fill="#111"/>
<path d="M177.40 383.80 L175.50 380.20 L179.30 380.20 Z" fill="#111"/>
<path d="M177.40 387.80 L179.30 391.40 L175.50 391.40 Z" fill="#111"/>
<path d="M177.40 419.60 L175.50 416.00 L179.30 416.00 Z" fill="#111"/>
<line x1="180.00" y1="386.30" x2="222.50" y2="386.30" stroke="#111" stroke-width="1.2" />
<path d="M178.00 386.30 L181.60 384.40 L181.60 388.20 Z" fill="#111"/>
<path d="M224.80 386.30 L221.20 388.20 L221.20 384.40 Z" fill="#111"/>
<line x1="269.90" y1="356.00" x2="269.90" y2="415.50" stroke="#111" stroke-width="1.2" stroke-dasharray="4.4 1.9"/>
<path d="M269.90 352.60 L271.80 356.20 L268.00 356.20 Z" fill="#111"/>
<path d="M269.90 418.90 L268.00 415.30 L271.80 415.30 Z" fill="#111"/>
<text x="164.00" y="374.50" font-size="11.4" text-anchor="start" font-weight="bold" font-style="italic" font-family='"Liberation Sans", sans-serif' fill="#000" textLength="8.30" lengthAdjust="spacingAndGlyphs" >R</text>
<text x="197.70" y="383.10" font-size="10.6" text-anchor="start" font-weight="bold" font-style="italic" font-family='"Liberation Sans", sans-serif' fill="#000" textLength="6.20" lengthAdjust="spacingAndGlyphs" >a</text>
<text x="275.60" y="391.60" font-size="15.2" text-anchor="start" font-weight="bold" font-style="italic" font-family='"Liberation Sans", sans-serif' fill="#000" textLength="9.20" lengthAdjust="spacingAndGlyphs" >h</text>
<text x="162.0" y="406.5" font-family='"Liberation Sans", sans-serif' font-size="12.2" font-weight="bold" font-style="italic" fill="#000">h<tspan font-size="8.3" dy="3.3">c</tspan></text>
</svg></body></html>
